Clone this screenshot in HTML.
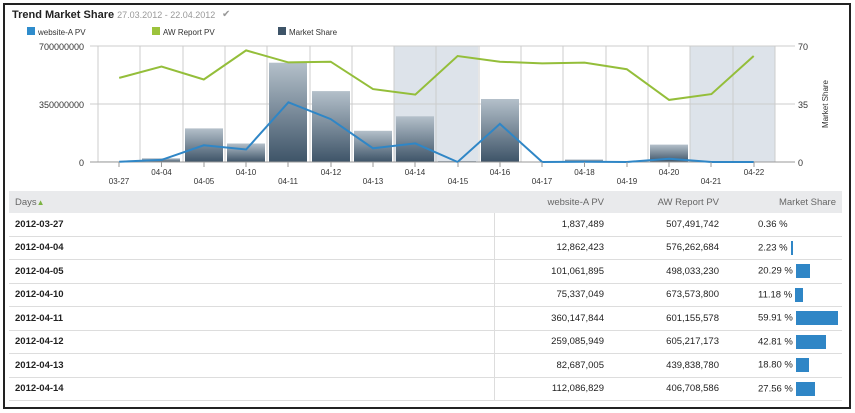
<!DOCTYPE html>
<html><head><style>
body{margin:0;background:#fff;font-family:"Liberation Sans",sans-serif;}
.wrap{position:absolute;left:3px;top:3px;width:844px;height:402px;border:2px solid #222;background:#fff;overflow:hidden}
table{position:absolute;left:4px;top:186px;width:833px;border-collapse:collapse;table-layout:fixed;font-size:9.5px;color:#222}
td,th{height:22.5px;padding:0 6px;border-bottom:1px solid #ddd;white-space:nowrap;overflow:hidden}
th{background:#e9eaec;font-weight:normal;color:#666;text-align:right;height:22px;border-bottom:none}
th:first-child{text-align:left}
td{text-align:right}
td:first-child{text-align:left;font-weight:bold;border-right:1px solid #ddd}
.ms{text-align:left;padding-left:33px}
.b{display:inline-block;height:14px;background:#2f86c6;vertical-align:middle;margin-left:3px}
</style></head><body>
<div class="wrap">
<svg width="844" height="186" style="position:absolute;left:0;top:0" font-family="Liberation Sans, sans-serif">
<defs><linearGradient id="g" x1="0" y1="0" x2="0" y2="1"><stop offset="0" stop-color="#b4c0ca"/><stop offset="1" stop-color="#3e5468"/></linearGradient></defs>
<g transform="translate(-5,-5)">
<text x="12" y="18" font-size="11" font-weight="bold" fill="#222">Trend Market Share <tspan font-weight="normal" font-size="9" fill="#999">27.03.2012 - 22.04.2012</tspan></text>
<text x="222" y="17" font-size="10" fill="#999">✔</text>
<rect x="27" y="27" width="8" height="8" fill="#2f8ccc"/><text x="38" y="35" font-size="8" fill="#333">website-A PV</text>
<rect x="152" y="27" width="8" height="8" fill="#9cc33c"/><text x="163" y="35" font-size="8" fill="#333">AW Report PV</text>
<rect x="278" y="27" width="8" height="8" fill="#3e5468"/><text x="289" y="35" font-size="8" fill="#333">Market Share</text>
<rect x="394" y="46" width="84" height="116" fill="#dde3ea"/>
<rect x="690" y="46" width="85" height="116" fill="#dde3ea"/>
<g stroke="#ccc" stroke-width="1">
<line x1="90" y1="46" x2="795" y2="46"/><line x1="90" y1="104" x2="795" y2="104"/>
<line x1="98" y1="46" x2="98" y2="162"/><line x1="140" y1="46" x2="140" y2="162"/><line x1="183" y1="46" x2="183" y2="162"/><line x1="225" y1="46" x2="225" y2="162"/><line x1="267" y1="46" x2="267" y2="162"/><line x1="310" y1="46" x2="310" y2="162"/><line x1="352" y1="46" x2="352" y2="162"/><line x1="394" y1="46" x2="394" y2="162"/><line x1="436" y1="46" x2="436" y2="162"/><line x1="479" y1="46" x2="479" y2="162"/><line x1="521" y1="46" x2="521" y2="162"/><line x1="563" y1="46" x2="563" y2="162"/><line x1="606" y1="46" x2="606" y2="162"/><line x1="648" y1="46" x2="648" y2="162"/><line x1="690" y1="46" x2="690" y2="162"/><line x1="733" y1="46" x2="733" y2="162"/><line x1="775" y1="46" x2="775" y2="162"/>
</g>
<g fill="url(#g)">
<rect x="100" y="161.4" width="38" height="0.6"/>
<rect x="142" y="158.3" width="38" height="3.7"/>
<rect x="185" y="128.4" width="38" height="33.6"/>
<rect x="227" y="143.5" width="38" height="18.5"/>
<rect x="269" y="62.7" width="38" height="99.3"/>
<rect x="312" y="91.1" width="38" height="70.9"/>
<rect x="354" y="130.8" width="38" height="31.2"/>
<rect x="396" y="116.3" width="38" height="45.7"/>
<rect x="438" y="161" width="38" height="1"/>
<rect x="481" y="99" width="38" height="63"/>
<rect x="523" y="161.5" width="38" height="0.5"/>
<rect x="565" y="159.5" width="38" height="2.5"/>
<rect x="608" y="161.5" width="38" height="0.5"/>
<rect x="650" y="144.6" width="38" height="17.4"/>
<rect x="692" y="161" width="38" height="1"/>
<rect x="735" y="161.5" width="38" height="0.5"/>
</g>
<line x1="90" y1="162" x2="795" y2="162" stroke="#999"/>
<polyline fill="none" stroke="#94be3a" stroke-width="2" points="119.2,77.9 161.5,66.5 203.8,79.5 246.1,50.4 288.4,62.4 330.7,61.7 373,89.1 415.3,94.6 457.6,56 499.9,61.7 542.2,63.4 584.5,62.6 626.8,69.2 669.1,99.9 711.4,94.1 753.7,56"/>
<polyline fill="none" stroke="#2f86c6" stroke-width="2" points="119.2,161.7 161.5,159.9 203.8,145.3 246.1,149.5 288.4,102.3 330.7,119.1 373,148.3 415.3,143.4 457.6,162 499.9,123.9 542.2,162 584.5,161.7 626.8,162 669.1,158.7 711.4,162 753.7,162"/>
<g stroke="#999"><line x1="119" y1="162" x2="119" y2="167"/><line x1="161.5" y1="162" x2="161.5" y2="167"/><line x1="204" y1="162" x2="204" y2="167"/><line x1="246" y1="162" x2="246" y2="167"/><line x1="288" y1="162" x2="288" y2="167"/><line x1="331" y1="162" x2="331" y2="167"/><line x1="373" y1="162" x2="373" y2="167"/><line x1="415" y1="162" x2="415" y2="167"/><line x1="458" y1="162" x2="458" y2="167"/><line x1="500" y1="162" x2="500" y2="167"/><line x1="542" y1="162" x2="542" y2="167"/><line x1="584.5" y1="162" x2="584.5" y2="167"/><line x1="627" y1="162" x2="627" y2="167"/><line x1="669" y1="162" x2="669" y2="167"/><line x1="711" y1="162" x2="711" y2="167"/><line x1="754" y1="162" x2="754" y2="167"/></g>
<g font-size="8" fill="#333" text-anchor="middle">
<text x="119" y="184">03-27</text><text x="161.5" y="175">04-04</text><text x="204" y="184">04-05</text><text x="246" y="175">04-10</text><text x="288" y="184">04-11</text><text x="331" y="175">04-12</text><text x="373" y="184">04-13</text><text x="415" y="175">04-14</text><text x="458" y="184">04-15</text><text x="500" y="175">04-16</text><text x="542" y="184">04-17</text><text x="584.5" y="175">04-18</text><text x="627" y="184">04-19</text><text x="669" y="175">04-20</text><text x="711" y="184">04-21</text><text x="754" y="175">04-22</text>
</g>
<g font-size="9" fill="#333" text-anchor="end">
<text x="84" y="50">700000000</text><text x="84" y="108">350000000</text><text x="84" y="166">0</text>
</g>
<g font-size="9" fill="#333">
<text x="798" y="50">70</text><text x="798" y="108">35</text><text x="798" y="166">0</text>
</g>
<text transform="translate(828,104) rotate(-90)" font-size="8" fill="#333" text-anchor="middle">Market Share</text>
</g>
</svg>
<table>
<colgroup><col style="width:485px"><col style="width:116px"><col style="width:115px"><col></colgroup>
<tr><th>Days<span style="color:#7cb342;font-size:8px">▲</span></th><th>website-A PV</th><th>AW Report PV</th><th>Market Share</th></tr>
<tr><td>2012-03-27</td><td>1,837,489</td><td>507,491,742</td><td class="ms">0.36 %</td></tr>
<tr><td>2012-04-04</td><td>12,862,423</td><td>576,262,684</td><td class="ms">2.23 %<span class="b" style="width:2px"></span></td></tr>
<tr><td>2012-04-05</td><td>101,061,895</td><td>498,033,230</td><td class="ms">20.29 %<span class="b" style="width:14px"></span></td></tr>
<tr><td>2012-04-10</td><td>75,337,049</td><td>673,573,800</td><td class="ms">11.18 %<span class="b" style="width:8px"></span></td></tr>
<tr><td>2012-04-11</td><td>360,147,844</td><td>601,155,578</td><td class="ms">59.91 %<span class="b" style="width:42px"></span></td></tr>
<tr><td>2012-04-12</td><td>259,085,949</td><td>605,217,173</td><td class="ms">42.81 %<span class="b" style="width:30px"></span></td></tr>
<tr><td>2012-04-13</td><td>82,687,005</td><td>439,838,780</td><td class="ms">18.80 %<span class="b" style="width:13px"></span></td></tr>
<tr><td>2012-04-14</td><td>112,086,829</td><td>406,708,586</td><td class="ms">27.56 %<span class="b" style="width:19px"></span></td></tr>
</table>
</div>
</body></html>
